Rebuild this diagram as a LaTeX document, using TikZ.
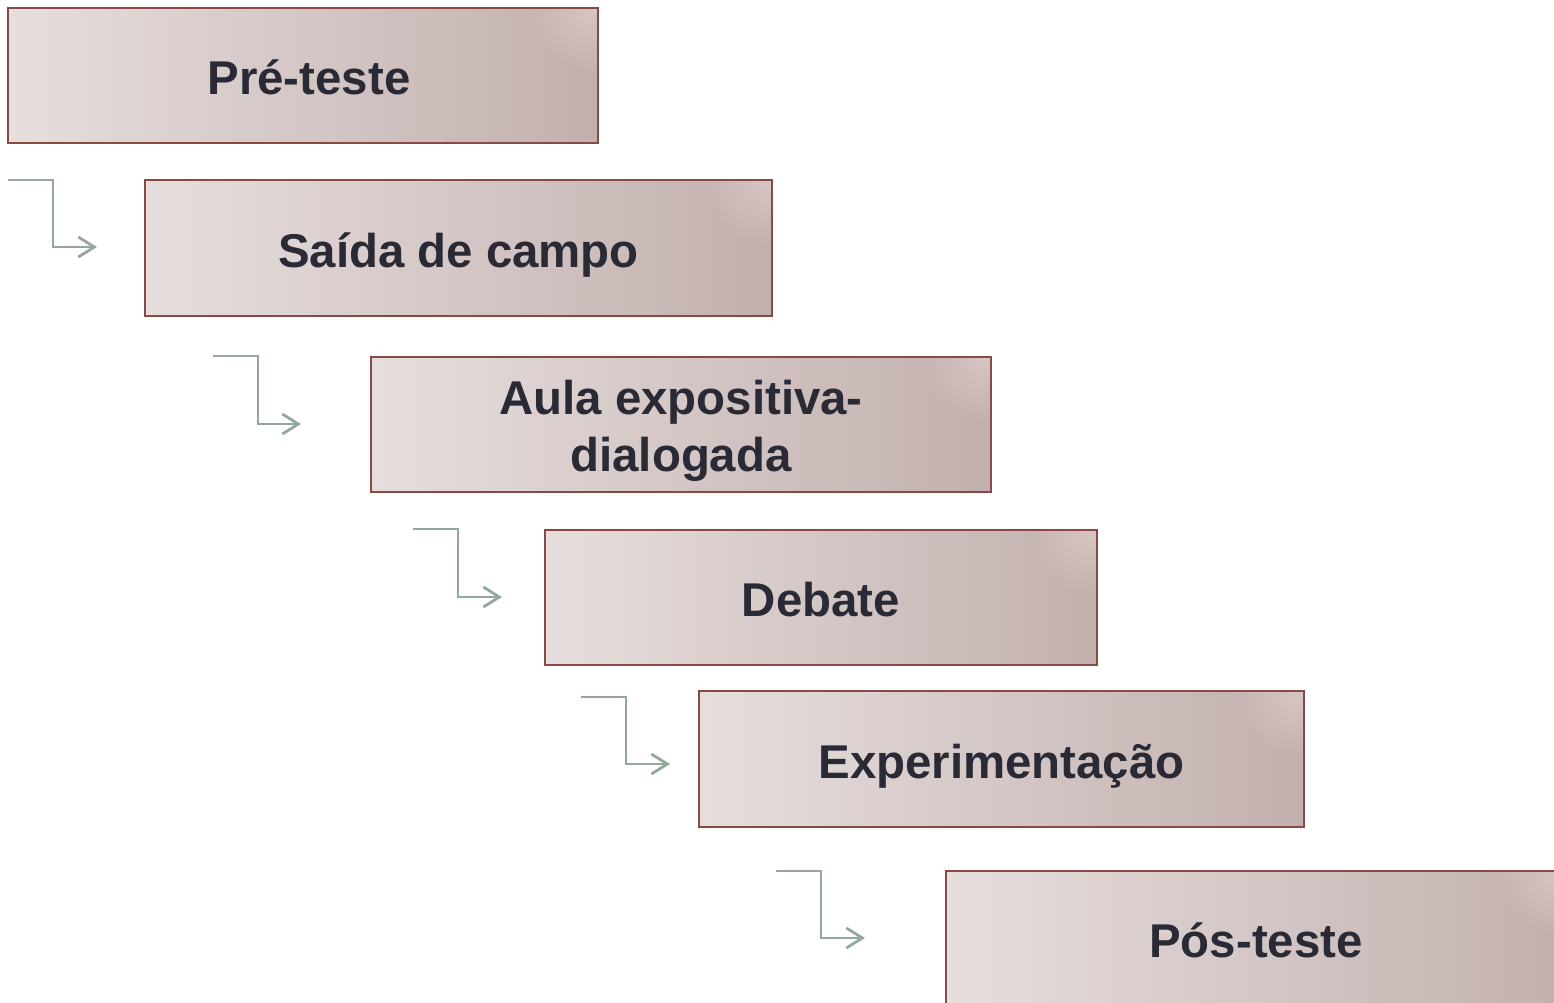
\documentclass[tikz,border=0pt]{standalone}
\usepackage{fontspec}
\setmainfont{Liberation Sans}
\usetikzlibrary{arrows.meta}
\definecolor{boxL}{HTML}{E6DEDD}
\definecolor{boxR}{HTML}{C2B0AE}
\definecolor{boxB}{HTML}{874A44}
\definecolor{txt}{HTML}{2A2A36}
\definecolor{arr}{HTML}{93A89B}
\begin{document}
\begin{tikzpicture}[x=1pt,y=-1pt,
  stagebox/.style={draw=boxB, line width=2pt, left color=boxL, right color=boxR,
    anchor=north west, inner sep=0pt, outer sep=0pt, minimum height=135pt,
    path picture={\foreach \r in {4,7,...,64}{\fill[white, opacity=0.022] (path picture bounding box.north east) circle (\r pt);}}},
  stagelabel/.style={inner sep=0pt, align=center, text=txt,
    font=\fontsize{47.4}{57}\selectfont\bfseries},
  flow/.style={draw=arr, line width=2.8pt, -{Straight Barb[length=16pt,width=20pt,line width=2.8pt]}}]
\useasboundingbox (0,0) rectangle (1554,1002);
\clip (0,0) rectangle (1554,1002);
\node[stagebox, minimum width=590pt] (p1) at (8,8) {};
\node[stagebox, minimum width=627pt, minimum height=136pt] (p2) at (145,180) {};
\node[stagebox, minimum width=620pt] (p3) at (371,357) {};
\node[stagebox, minimum width=552pt] (p4) at (545,530) {};
\node[stagebox, minimum width=605pt, minimum height=136pt] (p5) at (699,691) {};
\node[stagebox, minimum width=620pt] (p6) at (946,871) {};
\node[stagelabel, anchor=base] (t1) at ([xshift=6pt,yshift=-19pt]p1.center) {Pré-teste};
\node[stagelabel, anchor=base] (t2) at ([yshift=-19pt]p2.center) {Saída de campo};
\node[stagelabel] (t3) at ([yshift=-6pt]p3.center) {Aula expositiva-\\dialogada};
\node[stagelabel, anchor=base] (t4) at ([yshift=-19pt]p4.center) {Debate};
\node[stagelabel, anchor=base] (t5) at ([yshift=-19pt]p5.center) {Experimentação};
\node[stagelabel, anchor=base] (t6) at ([yshift=-19pt]p6.center) {Pós-teste};
\coordinate (a1s) at (8,180);   \coordinate (a1e) at (97,247);
\coordinate (a2s) at (213,356); \coordinate (a2e) at (301,424);
\coordinate (a3s) at (413,529); \coordinate (a3e) at (502,597);
\coordinate (a4s) at (581,697); \coordinate (a4e) at (670,764);
\coordinate (a5s) at (776,871); \coordinate (a5e) at (865,938);
\foreach \i in {1,...,5}{
  \draw[flow] (a\i s) -- ++(45,0) |- (a\i e);
}
\end{tikzpicture}
\end{document}
